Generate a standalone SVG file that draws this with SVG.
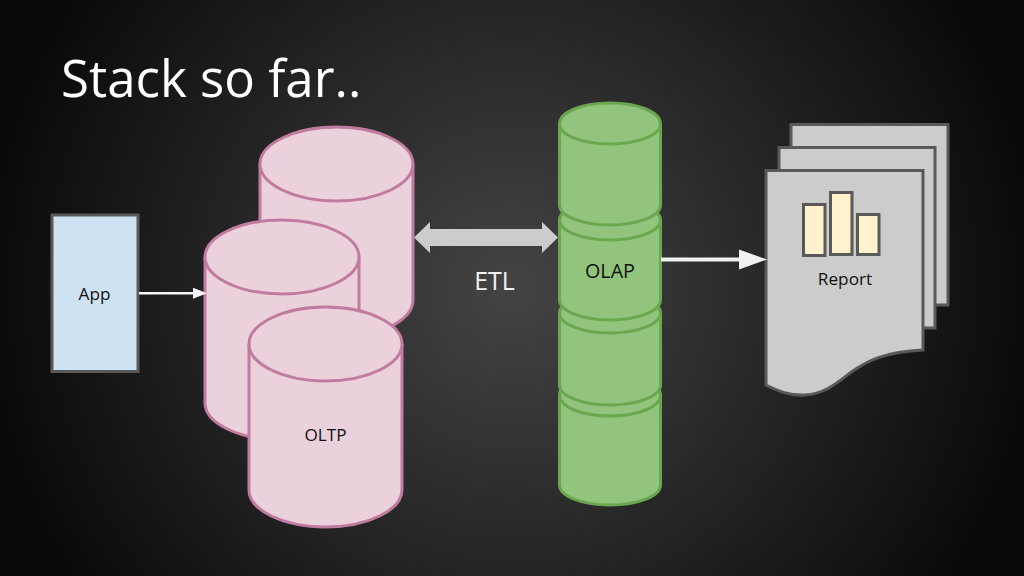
<svg xmlns="http://www.w3.org/2000/svg" width="1024" height="576" viewBox="0 0 1024 576">
<defs>
<radialGradient id="bg" gradientUnits="userSpaceOnUse" cx="512" cy="288" r="540">
<stop offset="0" stop-color="#444444"/><stop offset="0.5" stop-color="#262626"/><stop offset="1" stop-color="#080808"/>
</radialGradient>
<marker id="ah" markerUnits="userSpaceOnUse" markerWidth="30" markerHeight="24" refX="0" refY="10" orient="auto" overflow="visible"><path d="M0 0L28 10L0 20Z" fill="#f0f0f0"/></marker>
<marker id="ahs" markerUnits="userSpaceOnUse" markerWidth="16" markerHeight="12" refX="0" refY="5.5" orient="auto" overflow="visible"><path d="M0 0L14 5.5L0 11Z" fill="#f5f5f5"/></marker>
</defs>
<style>
text{font-family:"Open Sans","Noto Sans","DejaVu Sans",sans-serif;fill:#111}
.pink path{fill:#ead1dc;stroke:#c27ba0;stroke-width:3}
.green path{fill:#93c47d;stroke:#6aa84f;stroke-width:3}
.doc{fill:#cccccc;stroke:#595959;stroke-width:3}
.bar{fill:#fff2cc;stroke:#595959;stroke-width:3}
</style>
<rect width="1024" height="576" fill="url(#bg)"/>
<text x="61" y="97" font-size="51" style="fill:#fff">Stack so far..</text>
<g id="app">
<rect x="52" y="215" width="86" height="156.500" fill="#cfe2f3" stroke="#595959" stroke-width="3"/>
<text x="94.500" y="300" font-size="17.200" text-anchor="middle">App</text>
</g>
<g id="oltp-back" class="pink">
<path d="M260 164V300C260 320 294 338 336.500 338C379 338 413 320 413 300V164C413 144 379 127 336.500 127C294 127 260 144 260 164Z"/>
<path d="M260 164C260 184 294 201 336.500 201C379 201 413 184 413 164"/>
</g>
<g id="oltp-middle" class="pink">
<path d="M205 257V403C205 423 239 440 282 440C324.500 440 359 423 359 403V257C359 237 324.500 220 282 220C239 220 205 237 205 257Z"/>
<path d="M205 257C205 277 239 294 282 294C324.500 294 359 277 359 257"/>
</g>
<g id="oltp" class="pink">
<path d="M249 344V490C249 510 283 527 325.500 527C368 527 402 510 402 490V344C402 324 368 307 325.500 307C283 307 249 324 249 344Z"/>
<path d="M249 344C249 364 283 381 325.500 381C368 381 402 364 402 344"/>
<text x="325.500" y="441" font-size="17.200" text-anchor="middle">OLTP</text>
</g>
<g id="olap-4" class="green">
<path d="M559.500 395V485C559.500 496 582 505 610 505C638 505 660.500 496 660.500 485V395C660.500 384 638 375 610 375C582 375 559.500 384 559.500 395Z"/>
<path d="M559.500 395C559.500 407 582 416 610 416C638 416 660.500 407 660.500 395"/>
</g>
<g id="olap-3" class="green">
<path d="M559.500 313V385C559.500 396 582 405 610 405C638 405 660.500 396 660.500 385V313C660.500 302 638 293 610 293C582 293 559.500 302 559.500 313Z"/>
<path d="M559.500 313C559.500 324 582 333 610 333C638 333 660.500 324 660.500 313"/>
</g>
<g id="olap-2" class="green">
<path d="M559.500 220V300C559.500 311 582 320 610 320C638 320 660.500 311 660.500 300V220C660.500 209 638 200 610 200C582 200 559.500 209 559.500 220Z"/>
<path d="M559.500 220C559.500 231 582 240 610 240C638 240 660.500 231 660.500 220"/>
</g>
<g id="olap-1" class="green">
<path d="M559.500 124V205C559.500 216 582 225 610 225C638 225 660.500 216 660.500 205V124C660.500 112 638 103 610 103C582 103 559.500 112 559.500 124Z"/>
<path d="M559.500 124C559.500 135 582 144 610 144C638 144 660.500 135 660.500 124"/>
</g>
<text x="610" y="278" font-size="19.700" text-anchor="middle">OLAP</text>
<g id="report">
<path class="doc" d="M791 124.500H948V305H791Z"/>
<path class="doc" d="M779 147.500H935V328H779Z"/>
<path class="doc" d="M766 170.500H923V350C885 352 868 360 850 373C838 382 825 394 805 395C790 396 778 391 766 385Z"/>
<rect class="bar" x="803.500" y="204.500" width="21.500" height="51"/>
<rect class="bar" x="830.500" y="192.500" width="21.500" height="62"/>
<rect class="bar" x="857.500" y="214.500" width="21.500" height="40"/>
<text x="845" y="285" font-size="17.200" text-anchor="middle">Report</text>
</g>
<g id="connectors">
<path d="M139 293.300H193" fill="none" stroke="#f5f5f5" stroke-width="2.500" marker-end="url(#ahs)"/>
<path d="M661 259.500H739" fill="none" stroke="#f0f0f0" stroke-width="4" marker-end="url(#ah)"/>
<path d="M414 237.500L430 222V229H542V222L558 237.500L542 253V246H430V253Z" fill="#cccccc"/>
</g>
<text x="494.500" y="289.500" font-size="25" text-anchor="middle" style="fill:#f2f2f2">ETL</text>
</svg>
